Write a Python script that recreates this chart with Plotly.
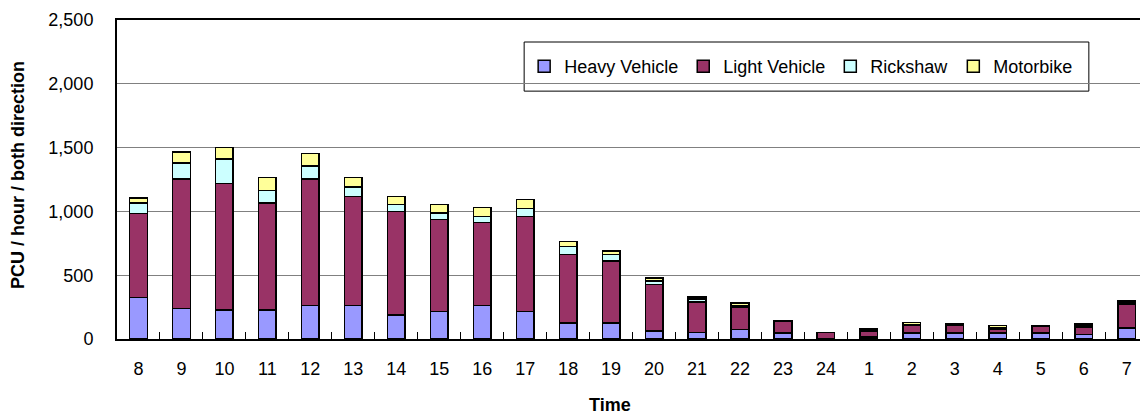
import plotly.graph_objects as go

hours = ["8", "9", "10", "11", "12", "13", "14", "15", "16", "17", "18", "19",
         "20", "21", "22", "23", "24", "1", "2", "3", "4", "5", "6", "7"]
heavy = [324, 239, 226, 226, 262, 262, 190, 215, 262, 215, 125, 125,
         62, 52, 73, 47, 5, 15, 47, 47, 47, 47, 34, 86]
light = [661, 1014, 991, 840, 991, 856, 811, 723, 653, 747, 538, 488,
         364, 239, 177, 90, 45, 45, 59, 62, 33, 51, 60, 189]
rickshaw = [81, 125, 195, 96, 101, 72, 54, 49, 47, 62, 62, 50,
            29, 21, 10, 0, 0, 5, 8, 5, 8, 3, 8, 14]
motorbike = [39, 88, 90, 104, 99, 76, 60, 68, 68, 68, 39, 26,
             23, 18, 21, 3, 2, 13, 16, 5, 16, 3, 15, 12]

series = [
    ("Heavy Vehicle", heavy, "#9999FF"),
    ("Light Vehicle", light, "#993366"),
    ("Rickshaw", rickshaw, "#CCFFFF"),
    ("Motorbike", motorbike, "#FFFF99"),
]

FONT = "Arial, Liberation Sans, sans-serif"
XRANGE = [-0.5, 23.31]

fig = go.Figure()
for name, vals, color in series:
    fig.add_trace(go.Bar(
        x=hours, y=vals, name=name, width=0.41,
        marker=dict(color=color, line=dict(color="black", width=1.5)),
    ))

fig.update_layout(
    width=1140, height=416,
    barmode="stack",
    margin=dict(l=117, r=0, t=20, b=77),
    paper_bgcolor="white", plot_bgcolor="white",
    font=dict(family=FONT, size=18, color="black"),
    legend=dict(
        orientation="h", x=0.398, y=0.854, xanchor="left", yanchor="middle",
        bgcolor="rgba(0,0,0,0)", borderwidth=0,
        traceorder="normal", font=dict(size=18),
    ),
    showlegend=True,
    shapes=[dict(
        type="rect", xref="paper", yref="paper",
        x0=0.398, x1=0.950, y0=0.777, y1=0.931,
        fillcolor="white", line=dict(color="black", width=1), layer="below",
    )],
    annotations=[
        dict(text="<b>Time</b>", xref="paper", yref="paper", x=0.482, y=-0.207,
             xanchor="center", yanchor="middle", showarrow=False, font=dict(size=18)),
        dict(text="<b>PCU / hour / both direction</b>", xref="paper", yref="paper",
             x=-0.0968, y=0.514, xanchor="center", yanchor="middle", textangle=-90,
             showarrow=False, font=dict(size=18)),
    ],
    xaxis2=dict(
        type="category", categoryorder="array", categoryarray=hours,
        range=XRANGE, overlaying="x", side="bottom", anchor="y",
        showticklabels=False, showgrid=False, showline=False,
        ticks="inside", ticklen=7, tickcolor="black", tickwidth=1,
        tickson="boundaries", automargin=False,
    ),
)

fig.layout.xaxis.update(
    type="category", range=XRANGE, automargin=False,
    showline=True, linecolor="black", linewidth=2, mirror=True,
    ticks="", ticklabelstandoff=12, showgrid=False,
)
fig.layout.yaxis.update(
    range=[0, 2500], dtick=500, tickformat=",", automargin=False,
    showline=True, linecolor="black", linewidth=2, layer="above traces",
    showgrid=True, gridcolor="#808080", gridwidth=1,
    ticks="", ticklabelstandoff=18,
    zeroline=False,
)
# invisible helper so the inside-tick axis is drawn
fig.add_trace(go.Bar(x=hours, y=[0] * len(hours), xaxis="x2", showlegend=False,
                     hoverinfo="skip", marker=dict(color="rgba(0,0,0,0)")))

fig.write_html("out.html", config={"displayModeBar": False},
               post_script="document.body.style.margin='0';")
